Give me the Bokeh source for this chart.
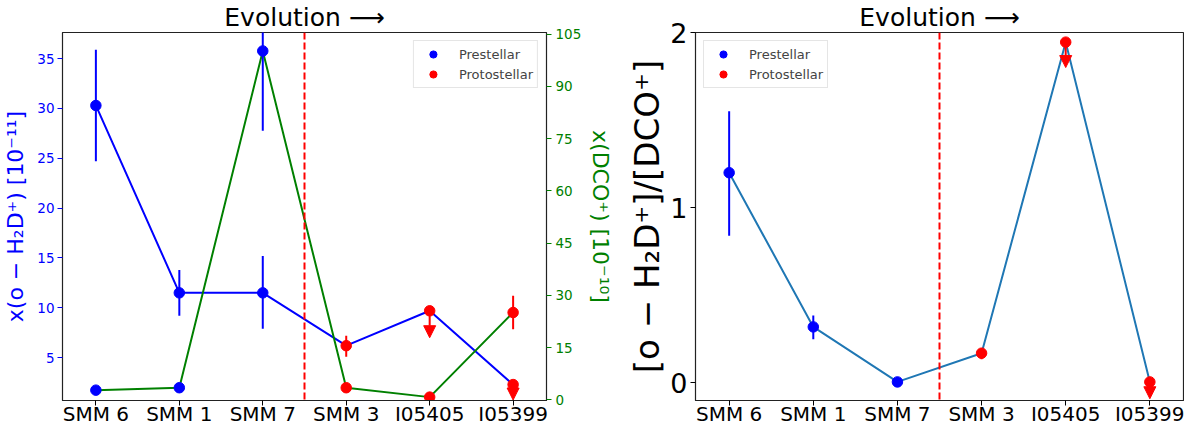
"""Two-panel comparison: o-H2D+ and DCO+ abundances, and their ratio, along evolution."""

from bokeh.embed import file_html
from bokeh.layouts import row
from bokeh.models import (
    Arrow,
    ColumnDataSource,
    FixedTicker,
    Legend,
    LegendItem,
    LinearAxis,
    NormalHead,
    Range1d,
    SingleIntervalTicker,
    Span,
)
from bokeh.plotting import figure
from bokeh.resources import INLINE

FONT = "DejaVu Sans"
PRE_COLOR = "#0000ff"
PROTO_COLOR = "#ff0000"

# sources, ordered by evolution; the first three are prestellar
sources = ["SMM 6", "SMM 1", "SMM 7", "SMM 3", "I05405", "I05399"]
n_prestellar = 3

# x(o-H2D+) [1e-11]; None = no error bar; limit_tip = upper limit arrow end
h2d = [30.3, 11.5, 11.5, 6.2, 9.7, 2.3]
h2d_lo = [24.7, 9.2, 7.9, 5.1, None, None]
h2d_hi = [35.9, 13.8, 15.2, 7.2, None, None]
h2d_limit_tip = [None, None, None, None, 7.0, 0.75]

# x(DCO+) [1e-10]
dco = [2.8, 3.5, 100.2, 3.5, 0.8, 25.1]
dco_lo = [None, None, 77.3, None, None, 20.3]
dco_hi = [None, None, 123.0, None, None, 29.9]

# [o-H2D+]/[DCO+]
ratio = [1.20, 0.32, 0.006, 0.17, 1.945, 0.006]
ratio_lo = [0.84, 0.25, None, 0.135, None, None]
ratio_hi = [1.55, 0.385, None, 0.20, None, None]
ratio_limit_tip = [None, None, None, None, 1.80, -0.09]

TITLE = "Evolution \u27f6"


def _color(i):
    return PRE_COLOR if i < n_prestellar else PROTO_COLOR


def _errorbars(p, vals_lo, vals_hi, **kw):
    for i, (lo, hi) in enumerate(zip(vals_lo, vals_hi)):
        if lo is None:
            continue
        p.segment(i, lo, i, hi, line_color=_color(i), line_width=2, **kw)


def _limits(p, vals, tips):
    idx = [i for i, t in enumerate(tips) if t is not None]
    src = ColumnDataSource(
        dict(x=idx, y=[vals[i] for i in idx], tip=[tips[i] for i in idx])
    )
    head = NormalHead(size=12, fill_color=PROTO_COLOR, line_color=PROTO_COLOR)
    p.add_layout(
        Arrow(
            end=head, x_start="x", y_start="y", x_end="x", y_end="tip",
            source=src, line_color=PROTO_COLOR, line_width=2,
        )
    )


def _markers(p, vals, **kw):
    xs = list(range(len(vals)))
    pre = p.scatter(xs[:n_prestellar], vals[:n_prestellar], size=10.5,
                    color=PRE_COLOR, **kw)
    proto = p.scatter(xs[n_prestellar:], vals[n_prestellar:], size=10.5,
                      color=PROTO_COLOR, **kw)
    return pre, proto


def _base(width, y_range, border_left, border_right):
    p = figure(
        width=width, height=428, output_backend="svg", toolbar_location=None,
        x_range=Range1d(-0.4, len(sources) - 0.6), y_range=y_range,
        min_border_left=border_left, min_border_right=border_right,
        min_border_top=25, min_border_bottom=0,
    )
    p.title.text = TITLE
    p.title.text_font = FONT
    p.title.text_font_size = "25px"
    p.title.text_font_style = "normal"
    p.title.text_color = "black"
    p.title.align = "center"
    p.title.standoff = 1
    p.grid.visible = False
    p.outline_line_color = "#222222"
    p.outline_line_width = 1.2

    p.xaxis.axis_label = None
    p.xaxis.ticker = FixedTicker(ticks=list(range(len(sources))))
    p.xaxis.major_label_overrides = {i: s for i, s in enumerate(sources)}
    p.xaxis.major_label_text_font = FONT
    p.xaxis.major_label_text_font_size = "20px"
    p.xaxis.major_label_text_color = "black"
    for ax in p.axis:
        ax.minor_tick_line_color = None
        ax.major_tick_out = 5
        ax.major_tick_in = 0
        ax.major_label_standoff = 3
        ax.axis_line_color = "#222222"
        ax.axis_label_text_font = FONT
        ax.axis_label_text_font_style = "normal"
        ax.major_label_text_font = FONT
    p.xaxis.major_label_standoff = -4

    p.add_layout(Span(location=(len(sources) - 1) / 2, dimension="height",
                      line_color="red", line_dash="7 3", line_width=2))
    return p


def _legend(p, pre, proto, location):
    legend = Legend(
        items=[LegendItem(label="Prestellar", renderers=[pre]),
               LegendItem(label="Protostellar", renderers=[proto])],
        location=location, margin=8, padding=4, spacing=2,
        glyph_width=30, glyph_height=18, label_height=18, label_standoff=11,
        label_text_font=FONT, label_text_font_size="13px",
        border_line_color="#cccccc", background_fill_alpha=0.8,
    )
    p.add_layout(legend)


# left panel: abundances on twin axes
left = _base(622, Range1d(0.7, 37.62), 55, 76)
left.extra_y_ranges = {"dco": Range1d(-0.17, 105.5)}
xs = list(range(len(sources)))
left.line(xs, h2d, line_color="blue", line_width=2)
left.line(xs, dco, line_color="green", line_width=2, y_range_name="dco")
_errorbars(left, h2d_lo, h2d_hi)
_errorbars(left, dco_lo, dco_hi, y_range_name="dco")
_limits(left, h2d, h2d_limit_tip)
pre, proto = _markers(left, h2d)
_markers(left, dco, y_range_name="dco")

yl = left.yaxis[0]
yl.ticker = SingleIntervalTicker(interval=5)
yl.axis_label = "x(o \u2212 H\u2082D\u207a) [10\u207b\u00b9\u00b9]"
yl.axis_label_text_color = "blue"
yl.axis_label_text_font_size = "22px"
yl.axis_label_standoff = 6
yl.major_label_text_color = "blue"
yl.major_label_text_font_size = "13.5px"
yl.major_tick_line_color = "blue"

yr = LinearAxis(
    y_range_name="dco", ticker=SingleIntervalTicker(interval=15),
    axis_label="x(DCO\u207a) [10\u207b\u00b9\u2070]",
    axis_label_text_color="green", axis_label_text_font=FONT,
    axis_label_text_font_style="normal", axis_label_text_font_size="22px",
    axis_label_standoff=4,
    major_label_text_color="green", major_label_text_font=FONT,
    major_label_text_font_size="13.5px", major_label_standoff=4,
    major_tick_line_color="green", major_tick_out=5, major_tick_in=0,
    minor_tick_line_color=None, axis_line_color="#222222",
)
left.add_layout(yr, "right")
_legend(left, pre, proto, "top_right")

# right panel: abundance ratio
right = _base(562, Range1d(-0.1, 2.0), 73, 1)
right.line(xs, ratio, line_color="#1f77b4", line_width=2)
_errorbars(right, ratio_lo, ratio_hi)
_limits(right, ratio, ratio_limit_tip)
pre, proto = _markers(right, ratio)
ya = right.yaxis[0]
ya.ticker = SingleIntervalTicker(interval=1)
ya.axis_label = "[o \u2212 H\u2082D\u207a]/[DCO\u207a]"
ya.axis_label_text_color = "black"
ya.axis_label_text_font_size = "34px"
ya.axis_label_standoff = 0
ya.major_label_text_color = "black"
ya.major_label_text_font_size = "27px"
_legend(right, pre, proto, "top_left")

page = row(left, right)
open("out.html", "w").write(file_html(page, INLINE))
